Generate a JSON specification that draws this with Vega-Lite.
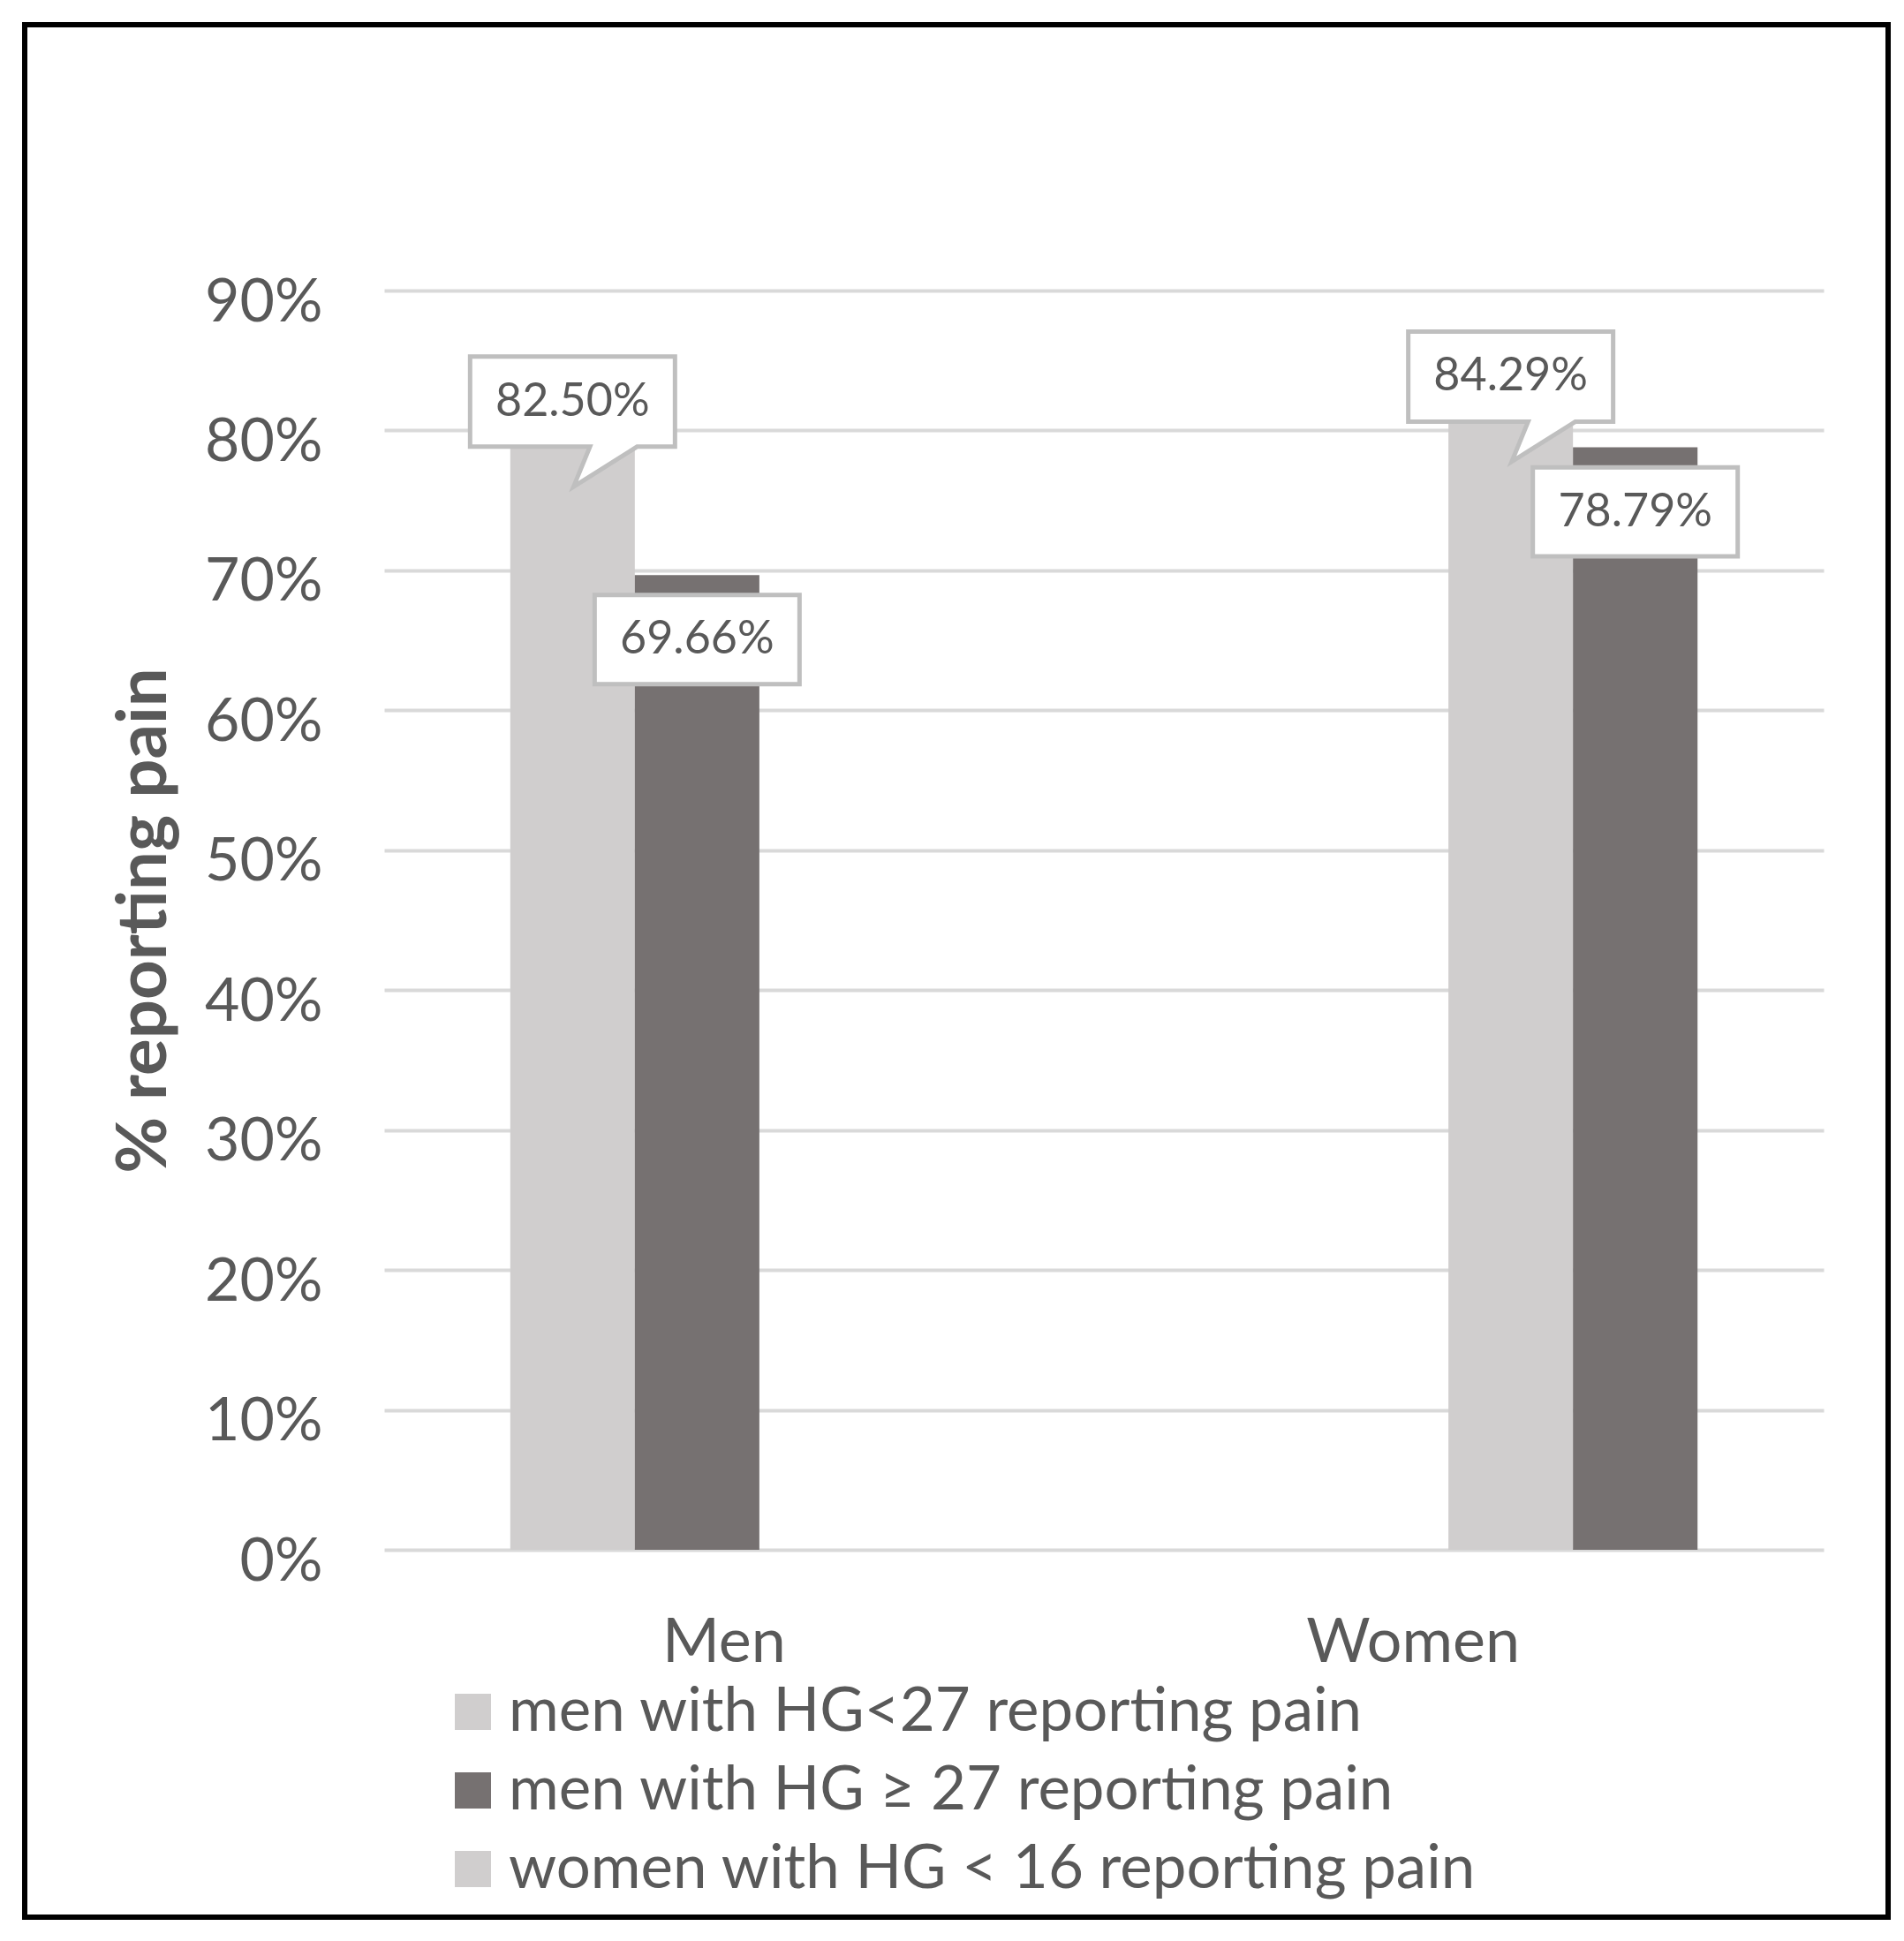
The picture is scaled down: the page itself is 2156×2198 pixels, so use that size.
{
  "$schema": "https://vega.github.io/schema/vega-lite/v6.json",
  "width": 2110,
  "height": 2143,
  "autosize": "none",
  "padding": {"left": 28, "top": 28, "right": 18, "bottom": 27},
  "background": "white",
  "config": {
    "view": {"stroke": "#000000", "strokeWidth": 6},
    "font": "Lato"
  },
  "data": {
    "values": [
      {"group": "Men", "series": "men with HG<27 reporting pain", "kind": "low", "pct": 0.825},
      {"group": "Men", "series": "men with HG ≥ 27 reporting pain", "kind": "high", "pct": 0.6966},
      {"group": "Women", "series": "women with HG < 16 reporting pain", "kind": "low", "pct": 0.8429},
      {"group": "Women", "series": "women with HG ≥ 16 reporting pain", "kind": "high", "pct": 0.7879}
    ]
  },
  "encoding": {
    "x": {
      "field": "group",
      "type": "nominal",
      "sort": ["Men", "Women"],
      "scale": {"range": [407, 2037], "paddingInner": 0.277, "paddingOuter": 0.183},
      "axis": {
        "title": null,
        "orient": "bottom",
        "offset": -300,
        "domain": false,
        "ticks": false,
        "tickSize": 0,
        "labelAngle": 0,
        "labelPadding": 10,
        "labelBaseline": "alphabetic",
        "labelOffset": -40,
        "labelFontSize": 70,
        "labelColor": "#595959",
        "labelLimit": 1000
      }
    },
    "xOffset": {
      "field": "series",
      "type": "nominal",
      "sort": [
        "men with HG<27 reporting pain",
        "men with HG ≥ 27 reporting pain",
        "women with HG < 16 reporting pain",
        "women with HG ≥ 16 reporting pain"
      ],
      "scale": {"paddingInner": 0, "paddingOuter": 0}
    },
    "y": {
      "field": "pct",
      "type": "quantitative",
      "scale": {"domain": [0, 0.9], "range": [1727, 301], "nice": false},
      "axis": {
        "title": "% reporting pain",
        "orient": "left",
        "offset": -345,
        "domain": false,
        "ticks": false,
        "tickSize": 0,
        "values": [0, 0.1, 0.2, 0.3, 0.4, 0.5, 0.6, 0.7, 0.8, 0.9],
        "format": ".0%",
        "labelPadding": 8,
        "labelOffset": 14,
        "labelFontSize": 68,
        "labelColor": "#595959",
        "titleFontSize": 78,
        "titleFontWeight": "bold",
        "titleColor": "#595959",
        "titlePadding": 28,
        "grid": true,
        "gridColor": "#D9D9D9",
        "gridWidth": 4
      }
    }
  },
  "layer": [
    {
      "mark": {"type": "bar"},
      "encoding": {
        "color": {
          "field": "series",
          "type": "nominal",
          "scale": {
            "domain": [
              "men with HG<27 reporting pain",
              "men with HG ≥ 27 reporting pain",
              "women with HG < 16 reporting pain",
              "women with HG ≥ 16 reporting pain"
            ],
            "range": ["#D0CECE", "#767171", "#D0CECE", "#767171"]
          },
          "legend": {
            "orient": "none",
            "legendX": 473,
            "legendY": 1876,
            "title": null,
            "values": [
              "men with HG<27 reporting pain",
              "men with HG ≥ 27 reporting pain",
              "women with HG < 16 reporting pain"
            ],
            "symbolType": "square",
            "symbolSize": 1681,
            "symbolStrokeWidth": 0,
            "labelFontSize": 69,
            "labelColor": "#595959",
            "labelOffset": 6,
            "labelLimit": 2000,
            "rowPadding": 19,
            "padding": 0
          }
        }
      }
    },
    {
      "transform": [{"filter": "datum.kind == 'low'"}],
      "mark": {
        "type": "point",
        "shape": "M-1,-0.44L1,-0.44L1,0.44L0.63,0.44L0.01,0.83L0.17,0.44L-1,0.44Z",
        "size": 53824,
        "filled": true,
        "fill": "#FFFFFF",
        "stroke": "#BFBFBF",
        "strokeWidth": 5,
        "opacity": 1,
        "yOffset": 7
      }
    },
    {
      "transform": [{"filter": "datum.kind == 'high'"}],
      "mark": {
        "type": "point",
        "shape": "M-1,-0.435L1,-0.435L1,0.435L-1,0.435Z",
        "size": 53824,
        "filled": true,
        "fill": "#FFFFFF",
        "stroke": "#BFBFBF",
        "strokeWidth": 5,
        "opacity": 1,
        "yOffset": 73
      }
    },
    {
      "transform": [{"filter": "datum.kind == 'low'"}],
      "mark": {"type": "text", "fontSize": 52, "color": "#595959", "baseline": "middle", "align": "center", "yOffset": 7},
      "encoding": {"text": {"field": "pct", "type": "quantitative", "format": ".2%"}}
    },
    {
      "transform": [{"filter": "datum.kind == 'high'"}],
      "mark": {"type": "text", "fontSize": 52, "color": "#595959", "baseline": "middle", "align": "center", "yOffset": 73},
      "encoding": {"text": {"field": "pct", "type": "quantitative", "format": ".2%"}}
    }
  ]
}
